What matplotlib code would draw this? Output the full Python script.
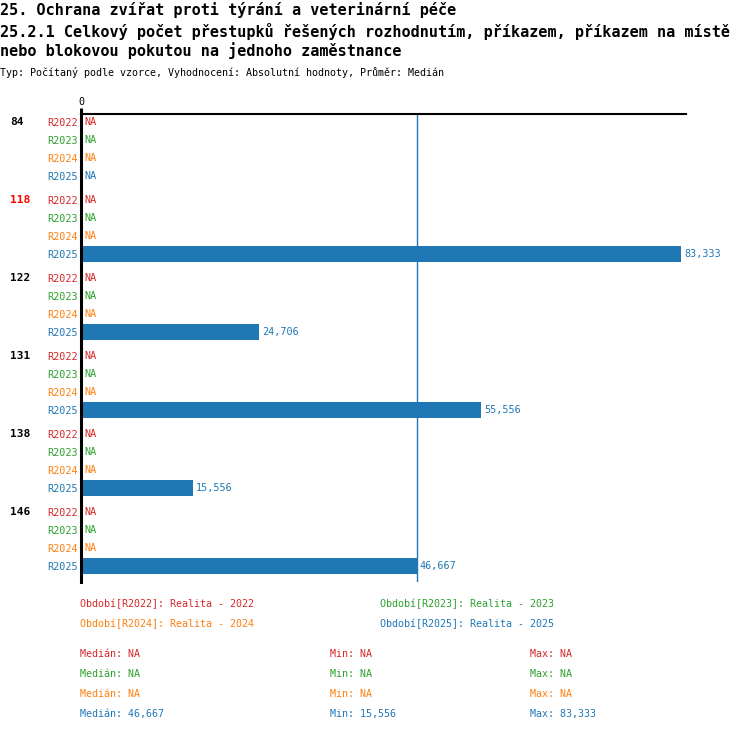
import matplotlib
matplotlib.use("Agg")
import matplotlib.pyplot as plt
import matplotlib.transforms as mtransforms
import numpy as np

# ── Data ───────────────────────────────────────────────────────────────────
groups = ["84", "118", "122", "131", "138", "146"]
highlight = "118"
periods = ["R2022", "R2023", "R2024", "R2025"]
period_names = ["Realita - 2022", "Realita - 2023", "Realita - 2024", "Realita - 2025"]
# values per period (None = NA), one entry per group
vals_2022 = [None, None, None, None, None, None]
vals_2023 = [None, None, None, None, None, None]
vals_2024 = [None, None, None, None, None, None]
vals_2025 = [None, 83.333, 24.706, 55.556, 15.556, 46.667]
series = [vals_2022, vals_2023, vals_2024, vals_2025]

COLORS = ["#d62728", "#2ca02c", "#ff7f0e", "#1f77b4"]
FONT = "DejaVu Sans Mono"
W, H = 750, 732


def fmt(v):
    return "NA" if v is None else f"{v:.3f}".replace(".", ",")


def fx(px):
    return px / W


def fy(py):
    return 1 - py / H


plt.rcParams["font.family"] = FONT
fig = plt.figure(figsize=(7.5, 7.32), dpi=100, facecolor="white")

# axes in pixel layout: x 81..686, y 114..582
ax = fig.add_axes([fx(81), fy(582), (686 - 81) / W, (582 - 114) / H])

row_px = 18.0
group_step = 78.0 / row_px
ypos, ylabels, ycols = [], [], []
for gi, g in enumerate(groups):
    for pi, p in enumerate(periods):
        y = gi * group_step + pi
        ypos.append(y)
        ylabels.append(p)
        ycols.append(COLORS[pi])
        v = series[pi][gi]
        if v is None:
            ax.annotate("NA", (0, y), xytext=(2.5, 0), textcoords="offset points",
                        color=COLORS[pi], fontsize=7.3, va="center", ha="left")
        else:
            ax.barh(y, v, height=16 / row_px, color=COLORS[pi], zorder=2)
            ax.annotate(fmt(v), (v, y), xytext=(2, 0), textcoords="offset points",
                        color=COLORS[pi], fontsize=7.3, va="center", ha="left")

ax.set_ylim((582 - 122) / row_px, -8 / row_px)
ax.set_xlim(0, 84.0)

ax.set_yticks(ypos)
ax.set_yticklabels(ylabels, fontsize=7.3)
for lbl, c in zip(ax.get_yticklabels(), ycols):
    lbl.set_color(c)
ax.tick_params(axis="y", length=0, pad=2)

ax.xaxis.tick_top()
ax.set_xticks([0])
ax.set_xticklabels(["0"], fontsize=7.3)
ax.tick_params(axis="x", length=4.3, width=2.2, pad=0.5, color="black")

for s in ["right", "bottom"]:
    ax.spines[s].set_visible(False)
ax.spines["top"].set_linewidth(1.5)
ax.spines["left"].set_linewidth(2.2)
ax.spines["left"].set_zorder(3)

# group labels on the far left
trans = mtransforms.blended_transform_factory(fig.transFigure, ax.transData)
for gi, g in enumerate(groups):
    ax.text(fx(10), gi * group_step, g, transform=trans, fontsize=8,
            fontweight="bold", va="center", ha="left",
            color="#ff0000" if g == highlight else "black")

# median line
all_vals = np.array([v for v in vals_2025 if v is not None])
ax.axvline(np.median(all_vals), color="#1f77b4", linewidth=1, zorder=1)

# titles
TITLE_FS = 10.9
fig.text(fx(0), fy(10), "25. Ochrana zvířat proti týrání a veterinární péče",
         fontsize=TITLE_FS, fontweight="bold", va="center")
fig.text(fx(0), fy(31), "25.2.1 Celkový počet přestupků řešených rozhodnutím, příkazem, příkazem na místě",
         fontsize=TITLE_FS, fontweight="bold", va="center")
fig.text(fx(0), fy(51), "nebo blokovou pokutou na jednoho zaměstnance",
         fontsize=TITLE_FS, fontweight="bold", va="center")
fig.text(fx(0), fy(73), "Typ: Počítaný podle vzorce, Vyhodnocení: Absolutní hodnoty, Průměr: Medián",
         fontsize=7.2, va="center")

# legend
leg_pos = [(80, 604), (380, 604), (80, 624), (380, 624)]
for (px, py), p, name, c in zip(leg_pos, periods, period_names, COLORS):
    fig.text(fx(px), fy(py), f"Období[{p}]: {name}", color=c, fontsize=7.2, va="center")

# stats
for pi, c in enumerate(COLORS):
    vals = [v for v in series[pi] if v is not None]
    if vals:
        med, mn, mx = np.median(vals), min(vals), max(vals)
    else:
        med = mn = mx = None
    py = 654 + 20 * pi
    fig.text(fx(80), fy(py), f"Medián: {fmt(med)}", color=c, fontsize=7.2, va="center")
    fig.text(fx(330), fy(py), f"Min: {fmt(mn)}", color=c, fontsize=7.2, va="center")
    fig.text(fx(530), fy(py), f"Max: {fmt(mx)}", color=c, fontsize=7.2, va="center")

fig.savefig("out.png", dpi=100, facecolor="white")
